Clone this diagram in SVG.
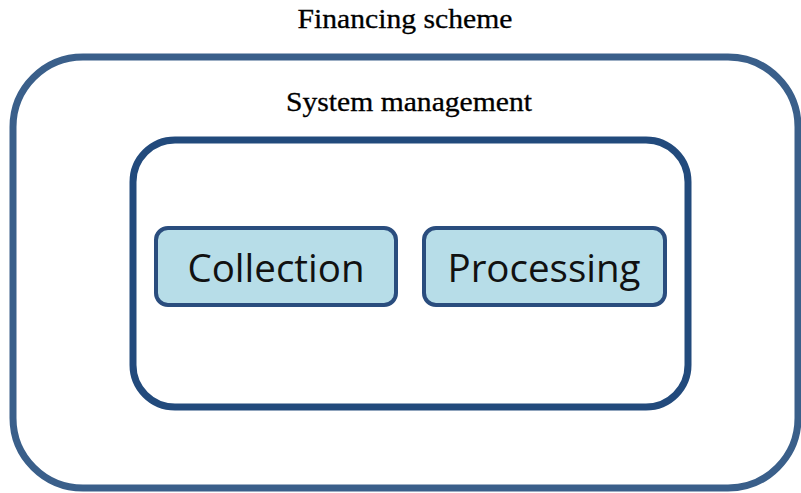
<svg xmlns="http://www.w3.org/2000/svg" width="801" height="493" viewBox="0 0 801 493">
<style>
.title{font-family:"Liberation Serif","Times New Roman",serif;font-size:27px;fill:#000;text-anchor:middle;stroke:#000;stroke-width:0.3}
.lbl{font-family:"Open Sans",Lato,sans-serif;font-size:38.5px;fill:#111;text-anchor:middle}
.box{fill:#b7dde8;stroke:#2a4d7e;stroke-width:4}
</style>
<rect width="801" height="493" fill="#fff"/>
<g id="financing-scheme">
<rect x="13" y="57" width="785" height="431" rx="70" ry="70" fill="none" stroke="#3a5f8a" stroke-width="7"/>
<text class="title" x="405" y="28" textLength="215" lengthAdjust="spacingAndGlyphs">Financing scheme</text>
</g>
<g id="system-management">
<rect x="133" y="140" width="555" height="267" rx="42" ry="42" fill="none" stroke="#224a7c" stroke-width="7"/>
<text class="title" x="409" y="111" textLength="246" lengthAdjust="spacingAndGlyphs">System management</text>
</g>
<g id="collection">
<rect class="box" x="156" y="228" width="240" height="77" rx="12" ry="12"/>
<text class="lbl" x="276" y="282">Collection</text>
</g>
<g id="processing">
<rect class="box" x="424" y="228" width="241" height="77" rx="12" ry="12"/>
<text class="lbl" x="544" y="282">Processing</text>
</g>
<g id="connectors"></g>
</svg>
